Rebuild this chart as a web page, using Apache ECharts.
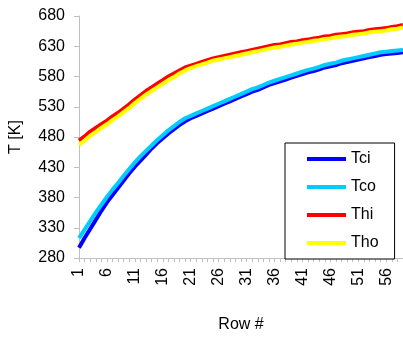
<!DOCTYPE html>
<html>
<head>
<meta charset="utf-8">
<script src="https://cdn.jsdelivr.net/npm/echarts@6/dist/echarts.min.js"></script>
<style>
  html, body { margin: 0; padding: 0; background: #fff; }
  #chart { width: 403px; height: 338px; }
</style>
</head>
<body>
<div id="chart"></div>
<script>
const rows = []
for (let i = 1; i <= 59; i++) rows.push(String(i))

const tci = [297, 313, 328, 343, 358, 372, 384, 396, 408, 420, 431, 441, 451, 461, 470, 478, 486, 493, 500, 506,
  511, 515, 519, 523, 527, 531, 535, 539, 543, 547, 551, 555, 558, 562, 566, 569, 572, 575, 578, 581,
  584, 587, 589, 592, 595, 597, 599, 602, 604, 606, 608, 610, 612, 614, 616, 617, 618, 619, 620]
const tco = [313, 327, 341, 355, 368, 381, 393, 404, 416, 427, 438, 448, 457, 466, 475, 483, 491, 498, 505, 511,
  515, 519, 523, 527, 531, 535, 539, 543, 547, 551, 555, 559, 562, 566, 570, 573, 576, 579, 582, 585,
  588, 591, 593, 596, 599, 601, 603, 606, 608, 610, 612, 614, 616, 618, 620, 621, 622, 623, 624]
const thi = [474, 481, 489, 495, 501, 507, 514, 520, 527, 534, 542, 549, 556, 562, 568, 574, 580, 585, 590, 595,
  598, 601, 604, 607, 610, 612, 614, 616, 618, 620, 622, 624, 626, 628, 630, 632, 633, 635, 637, 638,
  640, 641, 643, 644, 646, 647, 649, 650, 651, 653, 654, 655, 657, 658, 659, 660, 662, 663, 665]
const tho = [467, 474, 482, 488, 495, 501, 508, 514, 521, 528, 536, 543, 550, 556, 562, 568, 574, 579, 585, 590,
  594, 597, 600, 603, 606, 608, 610, 612, 614, 616, 618, 620, 622, 624, 626, 628, 629, 631, 633, 634,
  636, 637, 639, 640, 642, 643, 645, 646, 647, 649, 650, 651, 653, 654, 655, 656, 658, 659, 661]

const seriesNames = ['Tci', 'Tco', 'Thi', 'Tho']
const seriesData = [tci, tco, thi, tho]
const colors = ['#0000ff', '#00ccff', '#ff0000', '#ffff00']

const font = 'Liberation Sans, Arial, sans-serif'
const chart = echarts.init(document.getElementById('chart'))

chart.setOption({
  animation: false,
  color: colors,
  textStyle: { fontFamily: font },
  grid: { left: 79, top: 16, right: 0, bottom: 67 },
  legend: {
    orient: 'vertical',
    left: 285,
    top: 143,
    padding: [8, 16, 8, 22],
    itemGap: 12,
    itemWidth: 39,
    itemHeight: 4,
    icon: 'rect',
    borderColor: '#000',
    borderWidth: 1,
    backgroundColor: '#fff',
    textStyle: { color: '#000', fontSize: 16, fontFamily: font },
    data: seriesNames,
  },
  xAxis: {
    type: 'category',
    data: rows,
    boundaryGap: false,
    name: 'Row #',
    nameLocation: 'middle',
    nameGap: 59,
    nameTextStyle: { color: '#000', fontSize: 16 },
    axisLine: { lineStyle: { color: '#c0c0c0' } },
    axisTick: { show: true, interval: 0, length: 4, lineStyle: { color: '#c0c0c0' } },
    axisLabel: { interval: 4, rotate: 90, color: '#000', fontSize: 16, margin: 10 },
    splitLine: { show: false },
  },
  yAxis: {
    type: 'value',
    min: 280,
    max: 680,
    interval: 50,
    name: 'T [K]',
    nameLocation: 'middle',
    nameGap: 55,
    nameRotate: 90,
    nameTextStyle: { color: '#000', fontSize: 16 },
    axisLine: { show: true, lineStyle: { color: '#c0c0c0' } },
    axisTick: { show: true, length: 5, lineStyle: { color: '#c0c0c0' } },
    axisLabel: { color: '#000', fontSize: 16, margin: 14 },
    splitLine: { show: false },
  },
  series: seriesNames.map((name, i) => ({
    name,
    type: 'line',
    data: seriesData[i],
    symbol: 'none',
    lineStyle: { width: 4, color: colors[i] },
    itemStyle: { color: colors[i] },
  })),
})
</script>
</body>
</html>
